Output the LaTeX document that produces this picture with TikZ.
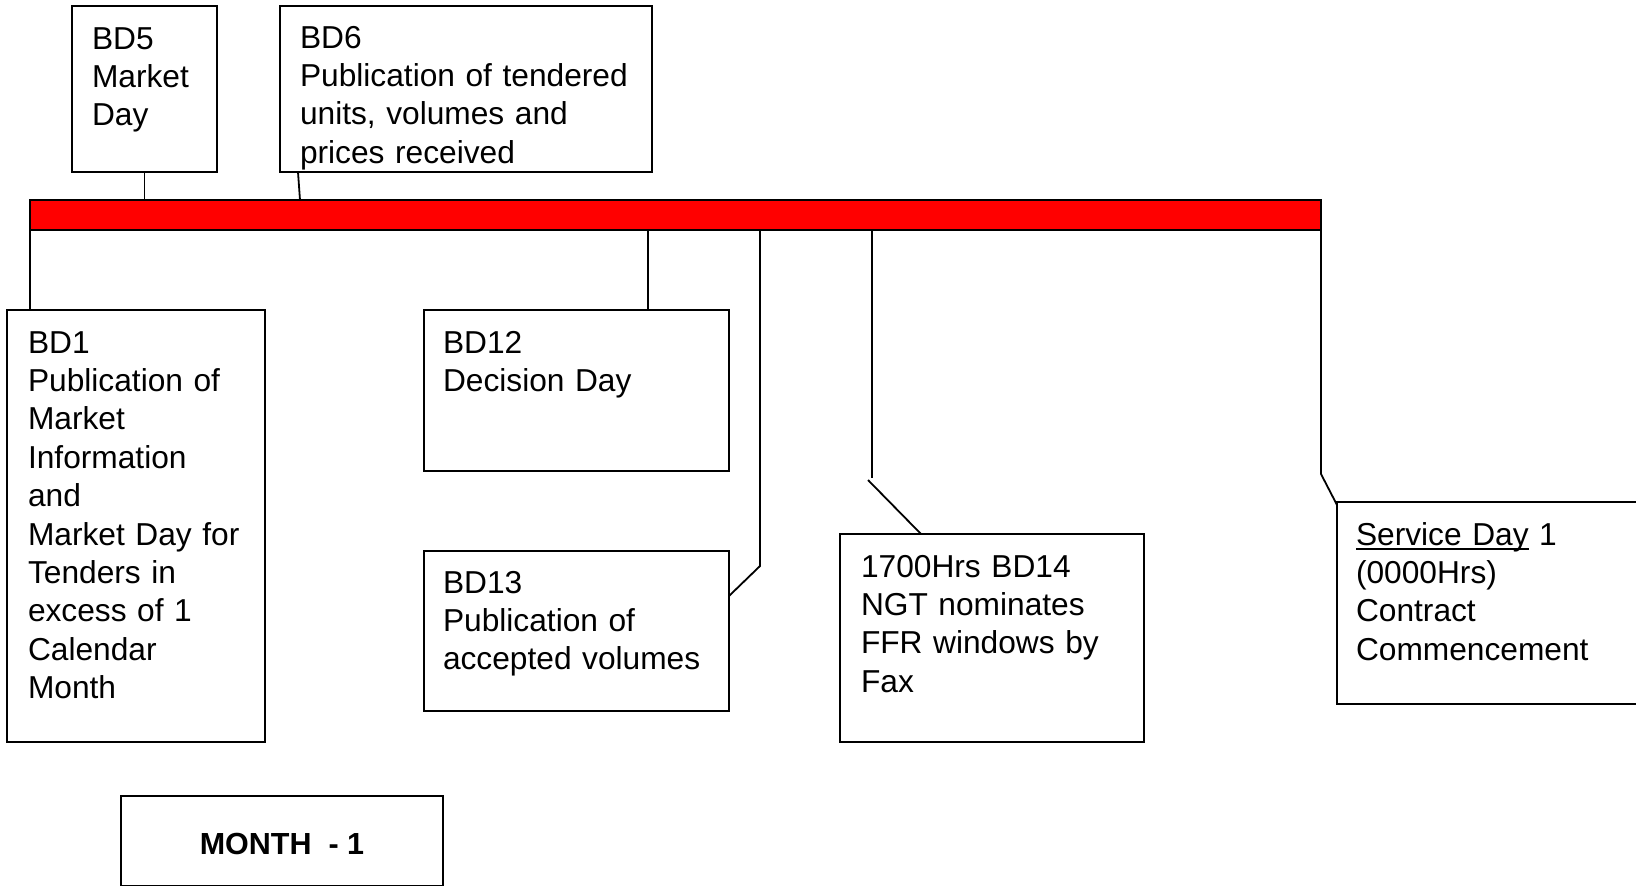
\documentclass[tikz,border=0pt]{standalone}
\usepackage{fontspec}
\setmainfont{Liberation Sans}
\usetikzlibrary{calc}
\newcommand\ulined[1]{\setbox0=\hbox{#1}\rlap{\rule[-5pt]{\wd0}{2pt}}\box0\relax}
\begin{document}
\begin{tikzpicture}[x=1pt,y=-1pt,
  box/.style={draw=black, fill=white, line width=1.8pt, inner sep=0pt, outer sep=0pt, anchor=north west},
  bar/.style={draw=black, fill=red, line width=1.8pt, inner sep=0pt, outer sep=0pt, anchor=north west},
  txt/.style={inner sep=0pt, outer sep=0pt, anchor=base west, align=left, text width=400pt,
              font=\fontsize{31.7}{38.4}\selectfont},
  boldtxt/.style={inner sep=0pt, outer sep=0pt, anchor=base, font=\fontsize{30.5}{36}\selectfont\bfseries},
  wire/.style={draw=black, line width=1.8pt}]
\useasboundingbox (0,0) rectangle (1636,886);
\begin{scope}
\clip (0,0) rectangle (1636,886);

% timeline bar
\node[bar, minimum width=1291pt, minimum height=30pt] (bar) at (30,200) {};

% boxes
\node[box, minimum width=145pt, minimum height=166pt] (bd5) at (72,6) {};
\node[box, minimum width=372pt, minimum height=166pt] (bd6) at (280,6) {};
\node[box, minimum width=258pt, minimum height=432pt] (bd1) at (7,310) {};
\node[box, minimum width=305pt, minimum height=161pt] (bd12) at (424,310) {};
\node[box, minimum width=305pt, minimum height=160pt] (bd13) at (424,551) {};
\node[box, minimum width=304pt, minimum height=208pt] (bd14) at (840,534) {};
\node[box, minimum width=340pt, minimum height=202pt] (sd) at (1337,502) {};
\node[box, minimum width=322pt, minimum height=90pt] (month) at (121,796) {};

% texts
\node[txt] (bd5t) at ($(bd5.north west)+(20,43)$) {BD5\\Market\\Day};
\node[txt] (bd6t) at ($(bd6.north west)+(20,42)$) {BD6\\Publication of tendered\\units, volumes and\\prices received};
\node[txt] (bd1t) at ($(bd1.north west)+(21,43)$) {BD1\\Publication of\\Market\\Information\\and\\Market Day for\\Tenders in\\excess of 1\\Calendar\\Month};
\node[txt] (bd12t) at ($(bd12.north west)+(19,43)$) {BD12\\Decision Day};
\node[txt] (bd13t) at ($(bd13.north west)+(19,42)$) {BD13\\Publication of\\accepted volumes};
\node[txt] (bd14t) at ($(bd14.north west)+(21,43)$) {1700Hrs BD14\\NGT nominates\\FFR windows by\\Fax};
\node[txt] (sdt) at ($(sd.north west)+(19,43)$) {\ulined{Service Day} 1\\(0000Hrs)\\Contract\\Commencement};
\node[boldtxt] (montht) at ($(month.north)+(0,58)$) {MONTH\ \ - 1};

% connectors
\coordinate (c6) at ($(bar.north west)+(270,0)$);
\draw[wire] ($(bd6.south west)+(18,0)$) -- (c6);
\draw[wire] (bd5.south) -- (bd5.south |- bar.north);
\draw[wire] (bar.south west) -- (bar.south west |- bd1.north);
\coordinate (c12) at ($(bar.south west)+(618,0)$);
\draw[wire] (c12) -- (c12 |- bd12.north);
\coordinate (c13) at ($(bar.south west)+(730,0)$);
\coordinate (k13) at ($(c13)+(0,336)$);
\draw[wire] (c13) -- (k13) -- ($(bd13.north east)+(0,45)$);
\coordinate (c14) at ($(bar.south west)+(842,0)$);
\coordinate (k14) at ($(c14)+(0,248)$);
\draw[wire] (c14) -- (k14);
\draw[wire] ($(k14)+(-4,2)$) -- ($(bd14.north west)+(81,0)$);
\coordinate (ksd) at ($(bar.south east)+(0,244)$);
\draw[wire] (bar.south east) -- (ksd) -- ($(sd.north west)+(0,3)$);
\end{scope}
\end{tikzpicture}
\end{document}
